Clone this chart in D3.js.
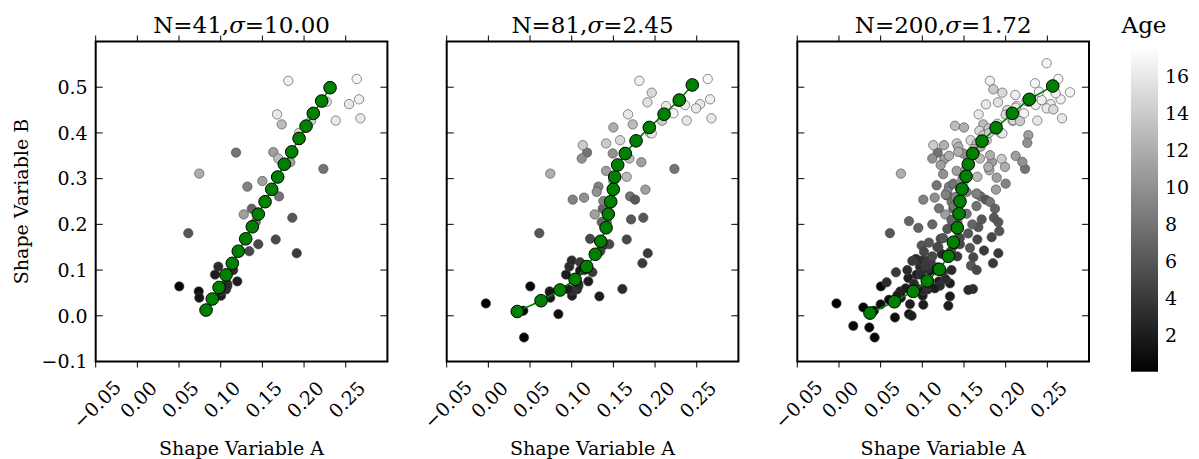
<!DOCTYPE html>
<html><head><meta charset="utf-8">
<script src="https://cdn.jsdelivr.net/npm/d3@7"></script>
<style>
body{margin:0;background:#fff}
svg{display:block}
text{font-family:"DejaVu Serif",serif;fill:#000}
</style>
</head><body>
<svg id="chart" width="1199" height="459"></svg>
<script>
// ---------------- DATA ----------------
const sampleSizes = [41, 81, 200];
const sigmaLabels = ["10.00", "2.45", "1.72"];
const xTickValues = [-0.05, 0.00, 0.05, 0.10, 0.15, 0.20, 0.25];
const yTickValues = [-0.1, 0.0, 0.1, 0.2, 0.3, 0.4, 0.5];
const ageTickValues = [2, 4, 6, 8, 10, 12, 14, 16];
const xLabel = "Shape Variable A";
const yLabel = "Shape Variable B";
const colorbarLabel = "Age";

// individuals [shapeA, shapeB, age]; panel 1 uses first 41, panel 2 adds next 40, panel 3 adds the rest
const samplesFirst = [
 [0.1811,0.514,16.5],[0.2632,0.518,17],[0.266,0.4735,16.5],[0.254,0.463,16],[0.2676,0.432,16],
 [0.238,0.427,16],[0.2272,0.468,15.5],[0.1676,0.4406,16],[0.1732,0.4187,13],[0.194,0.40,15],
 [0.2084,0.4266,14],[0.1184,0.357,8],[0.1631,0.358,11],[0.1691,0.344,13],[0.1835,0.336,11],
 [0.2232,0.3214,8],[0.0743,0.311,12],[0.15,0.2948,11],[0.132,0.2825,9],[0.17,0.2612,8],
 [0.1372,0.2342,7],[0.1276,0.2217,11],[0.1859,0.2145,6],[0.0611,0.1807,6],[0.166,0.1669,5],
 [0.1451,0.1565,5],[0.1343,0.1412,5],[0.1912,0.1368,4],[0.0971,0.1076,3],[0.0932,0.09,2],
 [0.1079,0.0696,2],[0.1199,0.0753,2],[0.0503,0.0643,0.5],[0.0736,0.0533,1],[0.0743,0.0395,1.5],
 [0.1004,0.0439,2],[0.1064,0.0577,2.5],[0.1012,0.0549,3],[0.108,0.065,3],[0.142,0.205,8],
 [0.115,0.10,3]
];
const samplesSecond = [
 [0.196,0.488,15],[0.1908,0.467,15.5],[0.2492,0.4537,16],[0.2132,0.4589,16],[0.15,0.412,12],
 [0.196,0.399,16],[0.158,0.384,15],[0.1412,0.377,14],[0.1132,0.3733,14],[0.112,0.344,10],
 [0.1492,0.355,10],[0.1412,0.317,11],[0.166,0.304,13],[0.13,0.271,10],[0.1884,0.276,11],
 [0.1012,0.254,9],[0.1148,0.2584,10],[0.176,0.254,6],[0.1712,0.2108,6],[0.136,0.205,7],
 [0.122,0.1684,5],[0.1848,0.115,4],[0.10,0.1208,3],[0.11,0.117,4],[0.1248,0.0952,4],
 [0.084,0.0037,1],[0.1332,0.0425,2],[0.1608,0.0586,3],[0.0428,-0.0475,0.5],[0.042,0.011,0.5],
 [-0.003,0.027,0],[0.074,0.051,1.5],[0.096,0.058,2],[0.118,0.106,3],[0.138,0.154,4],
 [0.146,0.245,8],[0.138,0.251,9],[0.222,0.443,17],[0.236,0.461,16.5],[0.11,0.099,2]
];
const samplesThird = [
 [0.2492,0.5525,17],[0.2352,0.5086,17],[0.26,0.4866,16.5],[0.2772,0.4888,17],[0.2432,0.472,16.5],
 [0.2572,0.4515,15],[0.1852,0.4954,14],[0.2116,0.483,16.5],[0.1764,0.4625,16],[0.202,0.45,15],
 [0.2092,0.428,15],[0.2172,0.4259,14],[0.2272,0.3951,11],[0.226,0.3783,10],[0.1796,0.4098,14],
 [0.1684,0.4047,15],[0.1392,0.4157,13],[0.1432,0.3695,12],[0.126,0.3732,12],[0.1264,0.3425,11],
 [0.1804,0.3183,12],[0.1952,0.3432,14],[0.212,0.3498,11],[0.22,0.3366,10],[0.1992,0.3256,12],
 [0.1892,0.3022,11],[0.20,0.2891,9],[0.1652,0.2671,8],[0.1172,0.2854,8],[0.1372,0.289,8],
 [0.1292,0.2634,8],[0.1352,0.2488,8],[0.1652,0.2671,9],[0.1812,0.2488,8],[0.1872,0.2342,7],
 [0.1672,0.1939,6],[0.1924,0.1851,6],[0.1832,0.1719,5],[0.174,0.1427,4],[0.1612,0.128,5],
 [0.1584,0.1097,6],[0.1652,0.1002,5],[0.1572,0.1485,6],[0.1192,0.15,4],[0.1232,0.1354,3],
 [0.0952,0.1924,7],[0.084,0.2071,7],[0.0992,0.1537,6],[0.0924,0.1244,3],[0.106,0.1207,4],
 [0.1052,0.1024,3],[0.0832,0.0827,2],[0.0684,0.0951,4],[0.0572,0.0732,3],[0.0872,0.0512,2],
 [0.1212,0.0658,3],[0.1332,0.071,2],[0.1312,0.0219,2],[0.1012,0.0241,2],[0.0852,0.0256,2],
 [0.0872,0.0,2],[0.0672,-0.0037,1],[0.0292,0.0183,0.5],[0.0172,-0.022,0.5],[0.0364,-0.0256,0.5],
 [0.1552,0.0563,3],[0.1432,0.3585,12],[0.1732,0.3951,14],[0.1652,0.3768,13],[0.1772,0.3841,14],
 [0.1812,0.3512,12],[0.1792,0.3256,12],[0.1532,0.2707,9],[0.1532,0.2231,8],[0.1912,0.2049,6],
 [0.148,0.30,10],[0.152,0.32,11],[0.145,0.28,9],[0.14,0.26,9],[0.138,0.24,8],
 [0.135,0.21,7],[0.13,0.19,6],[0.125,0.17,6],[0.118,0.15,5],[0.112,0.13,5],
 [0.105,0.11,4],[0.098,0.09,3],[0.09,0.07,3],[0.08,0.06,2],[0.07,0.045,2],
 [0.06,0.035,1],[0.05,0.025,1],[0.155,0.34,12],[0.162,0.365,13],[0.17,0.37,12],
 [0.18,0.40,14],[0.19,0.42,15],[0.20,0.44,15],[0.212,0.455,16],[0.225,0.47,16],
 [0.24,0.49,17],[0.125,0.31,10],[0.132,0.35,12],[0.122,0.33,11],[0.128,0.265,9],
 [0.12,0.235,8],[0.112,0.20,7],[0.108,0.16,6],[0.102,0.14,5],[0.088,0.12,4],
 [0.082,0.10,3],[0.165,0.24,8],[0.16,0.20,7],[0.155,0.18,6],[0.145,0.17,5],
 [0.142,0.13,4],[0.135,0.10,3],[0.128,0.08,3],[0.115,0.06,2]
];

// mean trajectory (green) per panel
const meanA1 = [0.0824,0.0899,0.098,0.1064,0.1139,0.1211,0.13,0.1379,0.1451,0.1532,0.1612,0.1684,0.1763,0.1852,0.194,0.2024,0.2111,0.2212,0.2312];
const meanB1 = [0.0125,0.0367,0.062,0.0894,0.1148,0.1412,0.1684,0.1947,0.2224,0.2496,0.2766,0.3036,0.3315,0.3585,0.3879,0.4149,0.4428,0.4698,0.499];
const meanA2 = [0.0347,0.0632,0.086,0.104,0.118,0.1283,0.1348,0.1412,0.1439,0.1468,0.1499,0.1516,0.1552,0.1643,0.1772,0.1931,0.2108,0.2291,0.2447];
const meanB2 = [0.0094,0.033,0.0564,0.0797,0.1076,0.1346,0.163,0.1925,0.2224,0.2496,0.2766,0.3036,0.33,0.355,0.3827,0.412,0.441,0.472,0.505];
const meanA3 = [0.0372,0.0664,0.0892,0.106,0.1204,0.1312,0.1372,0.142,0.1441,0.1452,0.1477,0.1525,0.1552,0.1605,0.1716,0.1885,0.208,0.2284,0.2565];
const meanB3 = [0.0059,0.0307,0.0533,0.0762,0.1016,0.1302,0.161,0.1925,0.2233,0.2503,0.2773,0.3052,0.3315,0.355,0.382,0.4112,0.4428,0.4735,0.5027];

// ---------------- LAYOUT ----------------
const panelLeft = [95.7, 446.7, 797.3];
const panelW = 291.7;
const plotTop = 41.5, plotBottom = 361.5;
const tickFont = 19, labelFont = 19, titleFont = 23;
const ageMax = 17.6;

const svg = d3.select("#chart");
const grayScale = d3.scaleLinear().domain([0, ageMax]).range(["#000000", "#ffffff"]).clamp(true);

const y = d3.scaleLinear().domain([-0.1, 0.6]).range([plotBottom, plotTop]);

const allSets = [samplesFirst, samplesFirst.concat(samplesSecond), samplesFirst.concat(samplesSecond, samplesThird)];
const means = [[meanA1, meanB1], [meanA2, meanB2], [meanA3, meanB3]];

panelLeft.forEach((x0, i) => {
  const x = d3.scaleLinear().domain([-0.05, 0.30]).range([x0, x0 + panelW]);
  const g = svg.append("g");
  const clipId = "clip" + i;
  svg.append("clipPath").attr("id", clipId).append("rect")
    .attr("x", x0).attr("y", plotTop).attr("width", panelW).attr("height", plotBottom - plotTop);

  const data = allSets[i];
  const pts = g.append("g").attr("clip-path", `url(#${clipId})`);
  pts.selectAll("circle").data(data).enter().append("circle")
    .attr("cx", d => x(d[0])).attr("cy", d => y(d[1])).attr("r", 4.7)
    .attr("fill", d => grayScale(d[2])).attr("stroke", "#444").attr("stroke-width", 0.6);

  const [ma, mb] = means[i];
  const mpts = ma.map((a, k) => [a, mb[k]]);
  pts.append("path").datum(mpts)
    .attr("d", d3.line().x(d => x(d[0])).y(d => y(d[1])))
    .attr("fill", "none").attr("stroke", "#008000").attr("stroke-width", 1.6);
  pts.selectAll("circle.m").data(mpts).enter().append("circle").attr("class", "m")
    .attr("cx", d => x(d[0])).attr("cy", d => y(d[1])).attr("r", 6.3)
    .attr("fill", "#008000").attr("stroke", "#000").attr("stroke-width", 1);

  // ticks: x outward top & bottom, y inward left & right
  const tg = g.append("g").attr("stroke", "#000").attr("stroke-width", 1);
  xTickValues.forEach(v => {
    const px = x(v);
    tg.append("line").attr("x1", px).attr("x2", px).attr("y1", plotBottom).attr("y2", plotBottom + 6);
    tg.append("line").attr("x1", px).attr("x2", px).attr("y1", plotTop).attr("y2", plotTop - 6);
  });
  yTickValues.forEach(v => {
    const py = y(v);
    tg.append("line").attr("x1", x0).attr("x2", x0 + 7).attr("y1", py).attr("y2", py);
    tg.append("line").attr("x1", x0 + panelW).attr("x2", x0 + panelW - 7).attr("y1", py).attr("y2", py);
  });

  // frame
  g.append("rect").attr("x", x0).attr("y", plotTop).attr("width", panelW).attr("height", plotBottom - plotTop)
    .attr("fill", "none").attr("stroke", "#000").attr("stroke-width", 2);

  // x tick labels rotated 45
  const fmt = d3.format(".2f");
  xTickValues.forEach(v => {
    const t = g.append("text").attr("font-size", tickFont).attr("text-anchor", "middle")
      .attr("dominant-baseline", "central")
      .text(fmt(v).replace("-", "\u2212"));
    const w = t.node().getComputedTextLength();
    const ext = (0.85 * w + 0.7 * tickFont) / Math.SQRT2;
    t.attr("transform", `translate(${x(v) + 1},${382 + ext / 2}) rotate(-45)`);
  });

  // y tick labels only on first panel
  if (i === 0) {
    const yf = d3.format(".1f");
    yTickValues.forEach(v => {
      g.append("text").attr("x", x0 - 8).attr("y", y(v)).attr("dy", "0.36em")
        .attr("text-anchor", "end").attr("font-size", tickFont)
        .text(yf(v).replace("-", "\u2212"));
    });
    g.append("text").attr("transform", `translate(28,${(plotTop + plotBottom) / 2}) rotate(-90)`)
      .attr("text-anchor", "middle").attr("font-size", labelFont).text(yLabel);
  }

  // x label
  g.append("text").attr("x", x0 + panelW / 2).attr("y", 455).attr("text-anchor", "middle")
    .attr("font-size", labelFont).text(xLabel);

  // title
  const title = g.append("text").attr("x", x0 + panelW / 2).attr("y", 33)
    .attr("text-anchor", "middle").attr("font-size", titleFont);
  title.append("tspan").text(`N=${sampleSizes[i]},`);
  title.append("tspan").attr("font-style", "italic").text("\u03c3");
  title.append("tspan").text(`=${sigmaLabels[i]}`);
});

// ---------------- COLORBAR ----------------
const cbX = 1131, cbW = 27, cbTop = 46.5, cbBot = 371.7;
const cScale = d3.scaleLinear().domain([0, ageMax]).range([cbBot, cbTop]);
const defs = svg.append("defs");
const grad = defs.append("linearGradient").attr("id", "cbgrad")
  .attr("x1", 0).attr("y1", 1).attr("x2", 0).attr("y2", 0);
grad.append("stop").attr("offset", 0).attr("stop-color", "#000");
grad.append("stop").attr("offset", 1).attr("stop-color", "#fff");
svg.append("rect").attr("x", cbX).attr("y", cbTop).attr("width", cbW).attr("height", cbBot - cbTop)
  .attr("fill", "url(#cbgrad)");
ageTickValues.forEach(v => {
  svg.append("text").attr("x", cbX + cbW + 7).attr("y", cScale(v)).attr("dy", "0.36em")
    .attr("font-size", tickFont).text(v);
});
svg.append("text").attr("x", 1144).attr("y", 33).attr("text-anchor", "middle")
  .attr("font-size", titleFont).text(colorbarLabel);
</script>
</body></html>
